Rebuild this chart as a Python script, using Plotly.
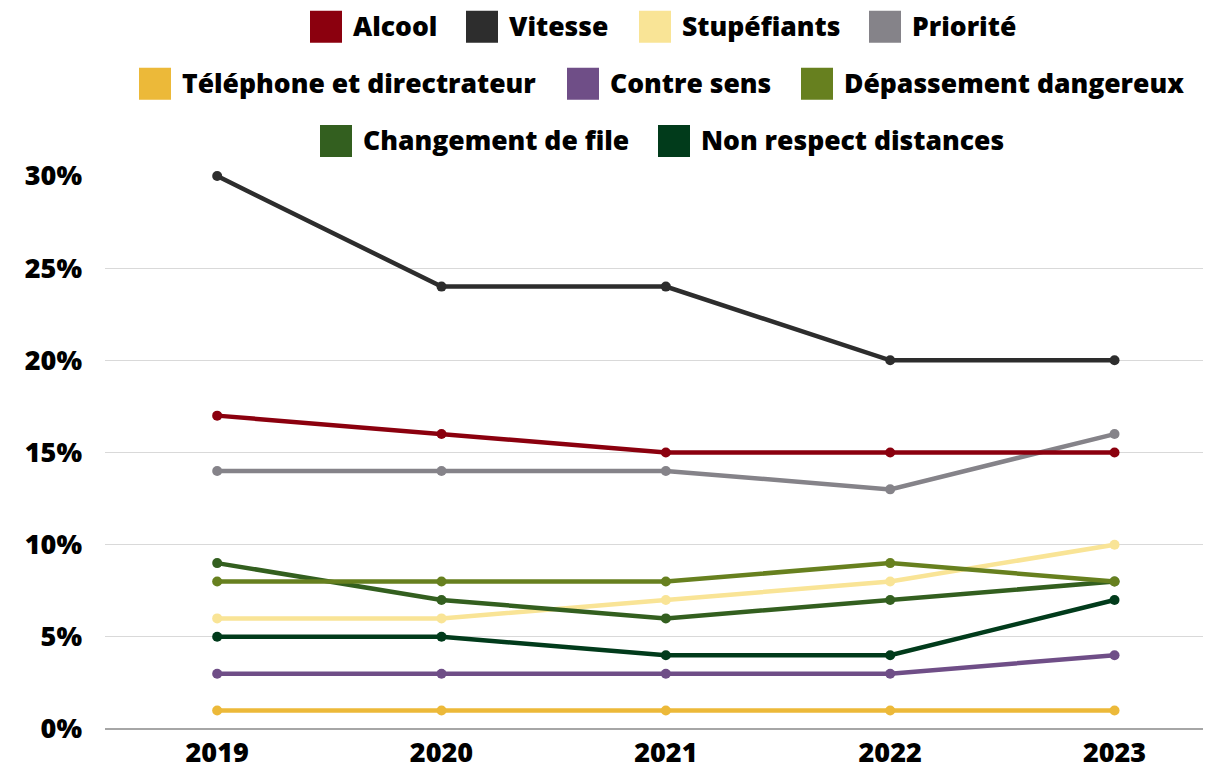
import plotly.graph_objects as go

years = ["2019", "2020", "2021", "2022", "2023"]
series_names = ["Alcool", "Vitesse", "Stupéfiants", "Priorité",
                "Téléphone et directrateur", "Contre sens", "Dépassement dangereux",
                "Changement de file", "Non respect distances"]
alcool = [0.17, 0.16, 0.15, 0.15, 0.15]
vitesse = [0.30, 0.24, 0.24, 0.20, 0.20]
stupefiants = [0.06, 0.06, 0.07, 0.08, 0.10]
priorite = [0.14, 0.14, 0.14, 0.13, 0.16]
telephone = [0.01, 0.01, 0.01, 0.01, 0.01]
contre_sens = [0.03, 0.03, 0.03, 0.03, 0.04]
depassement = [0.08, 0.08, 0.08, 0.09, 0.08]
changement = [0.09, 0.07, 0.06, 0.07, 0.08]
non_respect = [0.05, 0.05, 0.04, 0.04, 0.07]
y_ticks = [0, 0.05, 0.10, 0.15, 0.20, 0.25, 0.30]
y_tick_labels = ["0%", "5%", "10%", "15%", "20%", "25%", "30%"]

values = [alcool, vitesse, stupefiants, priorite, telephone, contre_sens,
          depassement, changement, non_respect]
colors = ["#8b000e", "#2d2d2d", "#f9e496", "#858389", "#ecb939", "#6f4e87",
          "#67801f", "#335f1f", "#013b1b"]

# drawing order (bottom to top)
order = [4, 5, 2, 8, 7, 6, 3, 0, 1]

FONT = "Open Sans"
OFF = 8  # page body margin
W, H = 1211 - OFF, 771 - OFF
ML, MR, MT, MB = 105 - OFF, 0, 176 - OFF, 42
PW, PH = W - ML - MR, H - MT - MB

fig = go.Figure()
for i in order:
    fig.add_trace(go.Scatter(
        x=list(range(len(years))), y=values[i], name=series_names[i],
        mode="lines+markers",
        line=dict(color=colors[i], width=4.5),
        marker=dict(color=colors[i], size=10),
        cliponaxis=False, showlegend=False,
    ))

# custom legend: rows of (series index, swatch left x in px of the reference)
legend_rows = [
    (26.7, [(0, 310), (1, 466), (2, 639), (3, 869)]),
    (83.7, [(4, 139), (5, 567), (6, 801)]),
    (141.0, [(7, 320), (8, 658)]),
]
shapes = []
annotations = []
def px2x(px):
    return (px - OFF - ML) / PW
def py2y(py):
    return (H - MB - (py - OFF)) / PH
for yc, items in legend_rows:
    for idx, xl in items:
        shapes.append(dict(type="rect", xref="paper", yref="paper",
                           x0=px2x(xl), x1=px2x(xl + 32),
                           y0=py2y(yc + 16), y1=py2y(yc - 16),
                           fillcolor=colors[idx], line=dict(width=0)))
        annotations.append(dict(xref="paper", yref="paper",
                                x=px2x(xl + 41), y=py2y(yc - 1),
                                xanchor="left", yanchor="middle",
                                text=series_names[idx], showarrow=False,
                                font=dict(family=FONT, size=26.5, color="#000000",
                                          weight=800)))

fig.update_layout(
    width=W, height=H,
    margin=dict(l=ML, r=MR, t=MT, b=MB, pad=0),
    paper_bgcolor="white", plot_bgcolor="white",
    showlegend=False,
    shapes=shapes, annotations=annotations,
    font=dict(family=FONT, size=27, color="#000000", weight=800),
    xaxis=dict(
        tickmode="array", tickvals=list(range(len(years))), ticktext=years,
        range=[-0.5, 4.43], showgrid=False, zeroline=False,
        showline=False, ticks="", ticklabelstandoff=5,
        tickfont=dict(family=FONT, size=27, weight=800, color="#000000"),
    ),
    yaxis=dict(
        range=[0, 0.30], tickmode="array", tickvals=y_ticks, ticktext=y_tick_labels,
        showgrid=True, gridcolor="#d9d9d9", gridwidth=1,
        zeroline=True, zerolinecolor="#a6a6a6", zerolinewidth=2,
        showline=False, ticks="", ticklabelstandoff=22,
        tickfont=dict(family=FONT, size=27, weight=800, color="#000000"),
    ),
)

fig.write_html("out.html")
